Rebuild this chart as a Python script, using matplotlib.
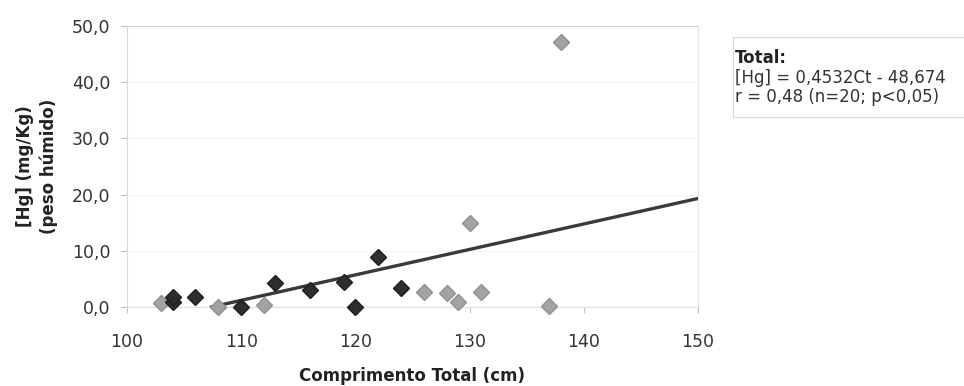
"""
Mercury concentration vs total length scatter with linear trend line.
"""

import numpy as np
import matplotlib.pyplot as plt
from matplotlib.ticker import FuncFormatter

# dark diamonds
dark_len = [104, 104, 106, 110, 113, 116, 119, 120, 122, 124]
dark_hg = [0.8, 1.8, 1.8, 0.0, 4.3, 3.0, 4.5, 0.0, 8.9, 3.4]

# light diamonds
light_len = [103, 108, 112, 126, 128, 129, 130, 131, 137, 138]
light_hg = [0.7, 0.0, 0.3, 2.6, 2.5, 0.9, 15.0, 2.6, 0.2, 47.2]

# trend line [Hg] = a*Ct + b
slope = 0.4532
intercept = -48.674
fit_range = [-intercept / slope, 150]

x_ticks = [100, 110, 120, 130, 140, 150]
y_ticks = [0, 10, 20, 30, 40, 50]

plt.rcParams["font.family"] = ["DejaVu Sans"]

fig = plt.figure(figsize=(9.64, 3.86), dpi=100)
ax = fig.add_axes([0.1317, 0.2047, 0.5923, 0.7279])

ax.set_xlim(100, 150)
ax.set_ylim(0, 50)
ax.set_xticks(x_ticks)
ax.set_yticks(y_ticks)
ax.yaxis.set_major_formatter(FuncFormatter(lambda v, p: f"{v:.1f}".replace(".", ",")))

ax.grid(axis="y", color="#f3f3f3", linewidth=0.8)
ax.set_axisbelow(True)

fit_x = np.array(fit_range)
ax.plot(fit_x, slope * fit_x + intercept, color="#3a3a3a", linewidth=2.4, zorder=2)

ax.plot(light_len, light_hg, "D", color="#a3a3a3", markeredgecolor="#909090",
        markersize=8.5, clip_on=False, zorder=3)
ax.plot(dark_len, dark_hg, "D", color="#2e2e2e", markeredgecolor="#1e1e1e",
        markersize=8.5, clip_on=False, zorder=3)

ax.spines["top"].set_color("#d0d0d0")
ax.spines["right"].set_color("#e6e6e6")
ax.spines["left"].set_color("#d8d8d8")
ax.spines["bottom"].set_color("#e0e0e0")
ax.tick_params(colors="#c0c0c0", labelcolor="#333333", labelsize=12.5, length=4)
ax.tick_params(axis="x", pad=15)
ax.tick_params(axis="y", pad=8)

ax.set_xlabel("Comprimento Total (cm)", fontsize=12, fontweight="bold", color="#222222")
ax.xaxis.set_label_coords(0.5, -0.212)
ax.set_ylabel("[Hg] (mg/Kg)\n(peso húmido)", fontsize=12, fontweight="bold",
              color="#222222", linespacing=1.35)
ax.yaxis.set_label_coords(-0.121, 0.5)

fig.text(0.7625, 0.849, "Total:", fontsize=12, fontweight="bold", va="center", color="#222222")
fig.text(0.7625, 0.798, "[Hg] = 0,4532Ct - 48,674", fontsize=12, va="center", color="#333333")
fig.text(0.7625, 0.750, "r = 0,48 (n=20; p<0,05)", fontsize=12, va="center", color="#333333")
fig.patches.append(plt.Rectangle((0.760, 0.697), 0.26, 0.207, transform=fig.transFigure,
                                 fill=False, edgecolor="#d8d8d8", linewidth=0.8))

fig.savefig("out.png", dpi=100)
